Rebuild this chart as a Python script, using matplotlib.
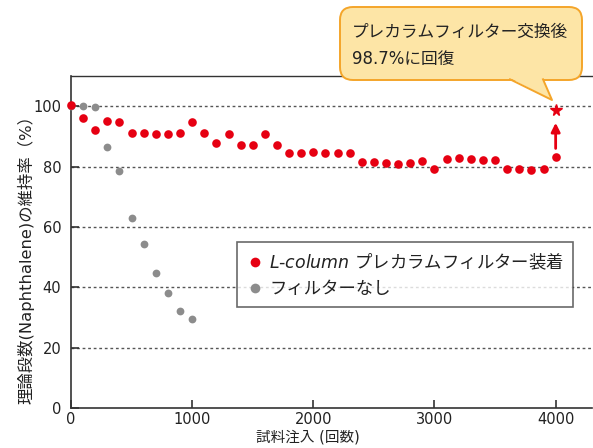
import matplotlib
matplotlib.use('Agg')
import matplotlib.pyplot as plt
from matplotlib.patches import FancyBboxPatch, Polygon
from matplotlib.lines import Line2D

plt.rcParams['font.family'] = ['DejaVu Sans', 'Noto Sans CJK JP']
# mixed italic/CJK legend label goes through mathtext
plt.rcParams['mathtext.fontset'] = 'custom'
plt.rcParams['mathtext.it'] = 'DejaVu Sans:italic'
plt.rcParams['mathtext.rm'] = 'Noto Sans CJK JP'

# data
inj_red = [0, 100, 200, 300, 400, 500, 600, 700, 800, 900, 1000,
           1100, 1200, 1300, 1400, 1500, 1600, 1700, 1800, 1900, 2000,
           2100, 2200, 2300, 2400, 2500, 2600, 2700, 2800, 2900, 3000,
           3100, 3200, 3300, 3400, 3500, 3600, 3700, 3800, 3900, 4000]
keep_red = [100.4, 96.1, 92.1, 95.1, 94.7, 91.0, 91.0, 90.7, 90.7, 91.0, 94.7,
            91.1, 87.7, 90.9, 87.3, 87.3, 90.7, 87.3, 84.6, 84.4, 84.7,
            84.5, 84.6, 84.6, 81.6, 81.6, 81.3, 81.0, 81.3, 81.7, 79.1,
            82.5, 82.9, 82.6, 82.3, 82.3, 79.1, 79.2, 78.8, 79.2, 83.1]
inj_gray = [0, 100, 200, 300, 400, 500, 600, 700, 800, 900, 1000]
keep_gray = [100.0, 100.0, 99.8, 86.5, 78.5, 63.0, 54.4, 44.8, 38.2, 32.1, 29.5]
inj_new = [4000]
keep_new = [98.7]

red = '#E60012'
gray = '#8C8C8C'
dark = '#333333'

fig = plt.figure(figsize=(5.93, 4.48), dpi=100)
ax = fig.add_axes([71/593, 40/448, 521/593, 332/448])

for y in [20, 40, 60, 80, 100]:
    ax.axhline(y, color='#555555', lw=1.0, ls=(0, (2, 2)), zorder=1)

ax.plot(inj_gray, keep_gray, 'o', color=gray, ms=5.6, mec='none', zorder=3, clip_on=False)
ax.plot(inj_red, keep_red, 'o', color=red, ms=6.2, mec='none', zorder=4, clip_on=False)
ax.plot(inj_new, keep_new, '*', color=red, ms=8.5, mec=red, zorder=5)
ax.annotate('', xy=(4000, 94.5), xytext=(4000, 86.0),
            arrowprops=dict(arrowstyle='-|>', color=red, lw=2, mutation_scale=13,
                            shrinkA=0, shrinkB=0), zorder=5)

ax.set_xlim(0, 4300)
ax.set_ylim(0, 110)
ax.set_xticks([0, 1000, 2000, 3000, 4000])
ax.set_yticks([0, 20, 40, 60, 80, 100])
ax.tick_params(direction='in', length=6, width=1.2, color=dark, labelsize=10.5,
               labelcolor='#222222')
ax.tick_params(axis='y', pad=7)
ax.tick_params(axis='x', pad=3)
for s in ['left', 'bottom', 'top']:
    ax.spines[s].set_color(dark)
    ax.spines[s].set_linewidth(1.2)
ax.spines['top'].set_linewidth(1.0)
ax.spines['right'].set_visible(False)

ax.set_xlabel('試料注入 (回数)', fontsize=10.5, color='#222222')
ax.xaxis.set_label_coords(0.455, -21/332)
ax.set_ylabel('理論段数(Naphthalene)の維持率（%）', fontsize=11.8, color='#222222')
ax.yaxis.set_label_coords(-37/521, 0.46)

handles = [Line2D([], [], ls='none', marker='o', color=red, ms=7, mec='none'),
           Line2D([], [], ls='none', marker='o', color=gray, ms=7, mec='none')]
labels = [r'$\mathit{L}$-$\mathit{column}\ \mathrm{プレカラムフィルター装着}$', 'フィルターなし']
leg = ax.legend(handles, labels, loc='upper left',
                bbox_to_anchor=(237/593, 1 - 242/448), bbox_transform=fig.transFigure,
                fontsize=12.5, frameon=True, fancybox=False, handlelength=1.0,
                handletextpad=0.3, borderpad=0.55, labelspacing=0.45, borderaxespad=0)
leg.get_frame().set_edgecolor('#444444')
leg.get_frame().set_linewidth(1.2)
for t in leg.get_texts():
    t.set_color('#222222')

# callout box
fill = '#FDE5A6'
edge = '#F4A52A'
box = FancyBboxPatch((3.40, 3.68), 2.42, 0.73, boxstyle='round,pad=0,rounding_size=0.13',
                     transform=fig.dpi_scale_trans, fc=fill, ec=edge, lw=1.4, zorder=10)
fig.patches.append(box)
ptr = Polygon([(5.10, 3.70), (5.43, 3.70), (5.52, 3.48)], closed=True,
              transform=fig.dpi_scale_trans, fc=fill, ec='none', zorder=11)
fig.patches.append(ptr)
fig.lines.append(Line2D([5.10, 5.52, 5.43], [3.687, 3.48, 3.687], color=edge, lw=1.4,
                        transform=fig.dpi_scale_trans, zorder=12))
fig.text(3.52 / 5.93, 1 - 45.5 / 448, 'プレカラムフィルター交換後\n98.7%に回復',
         fontsize=12, color='#222222', va='center', ha='left', linespacing=1.6,
         zorder=13)

fig.savefig('out.png', dpi=100)
